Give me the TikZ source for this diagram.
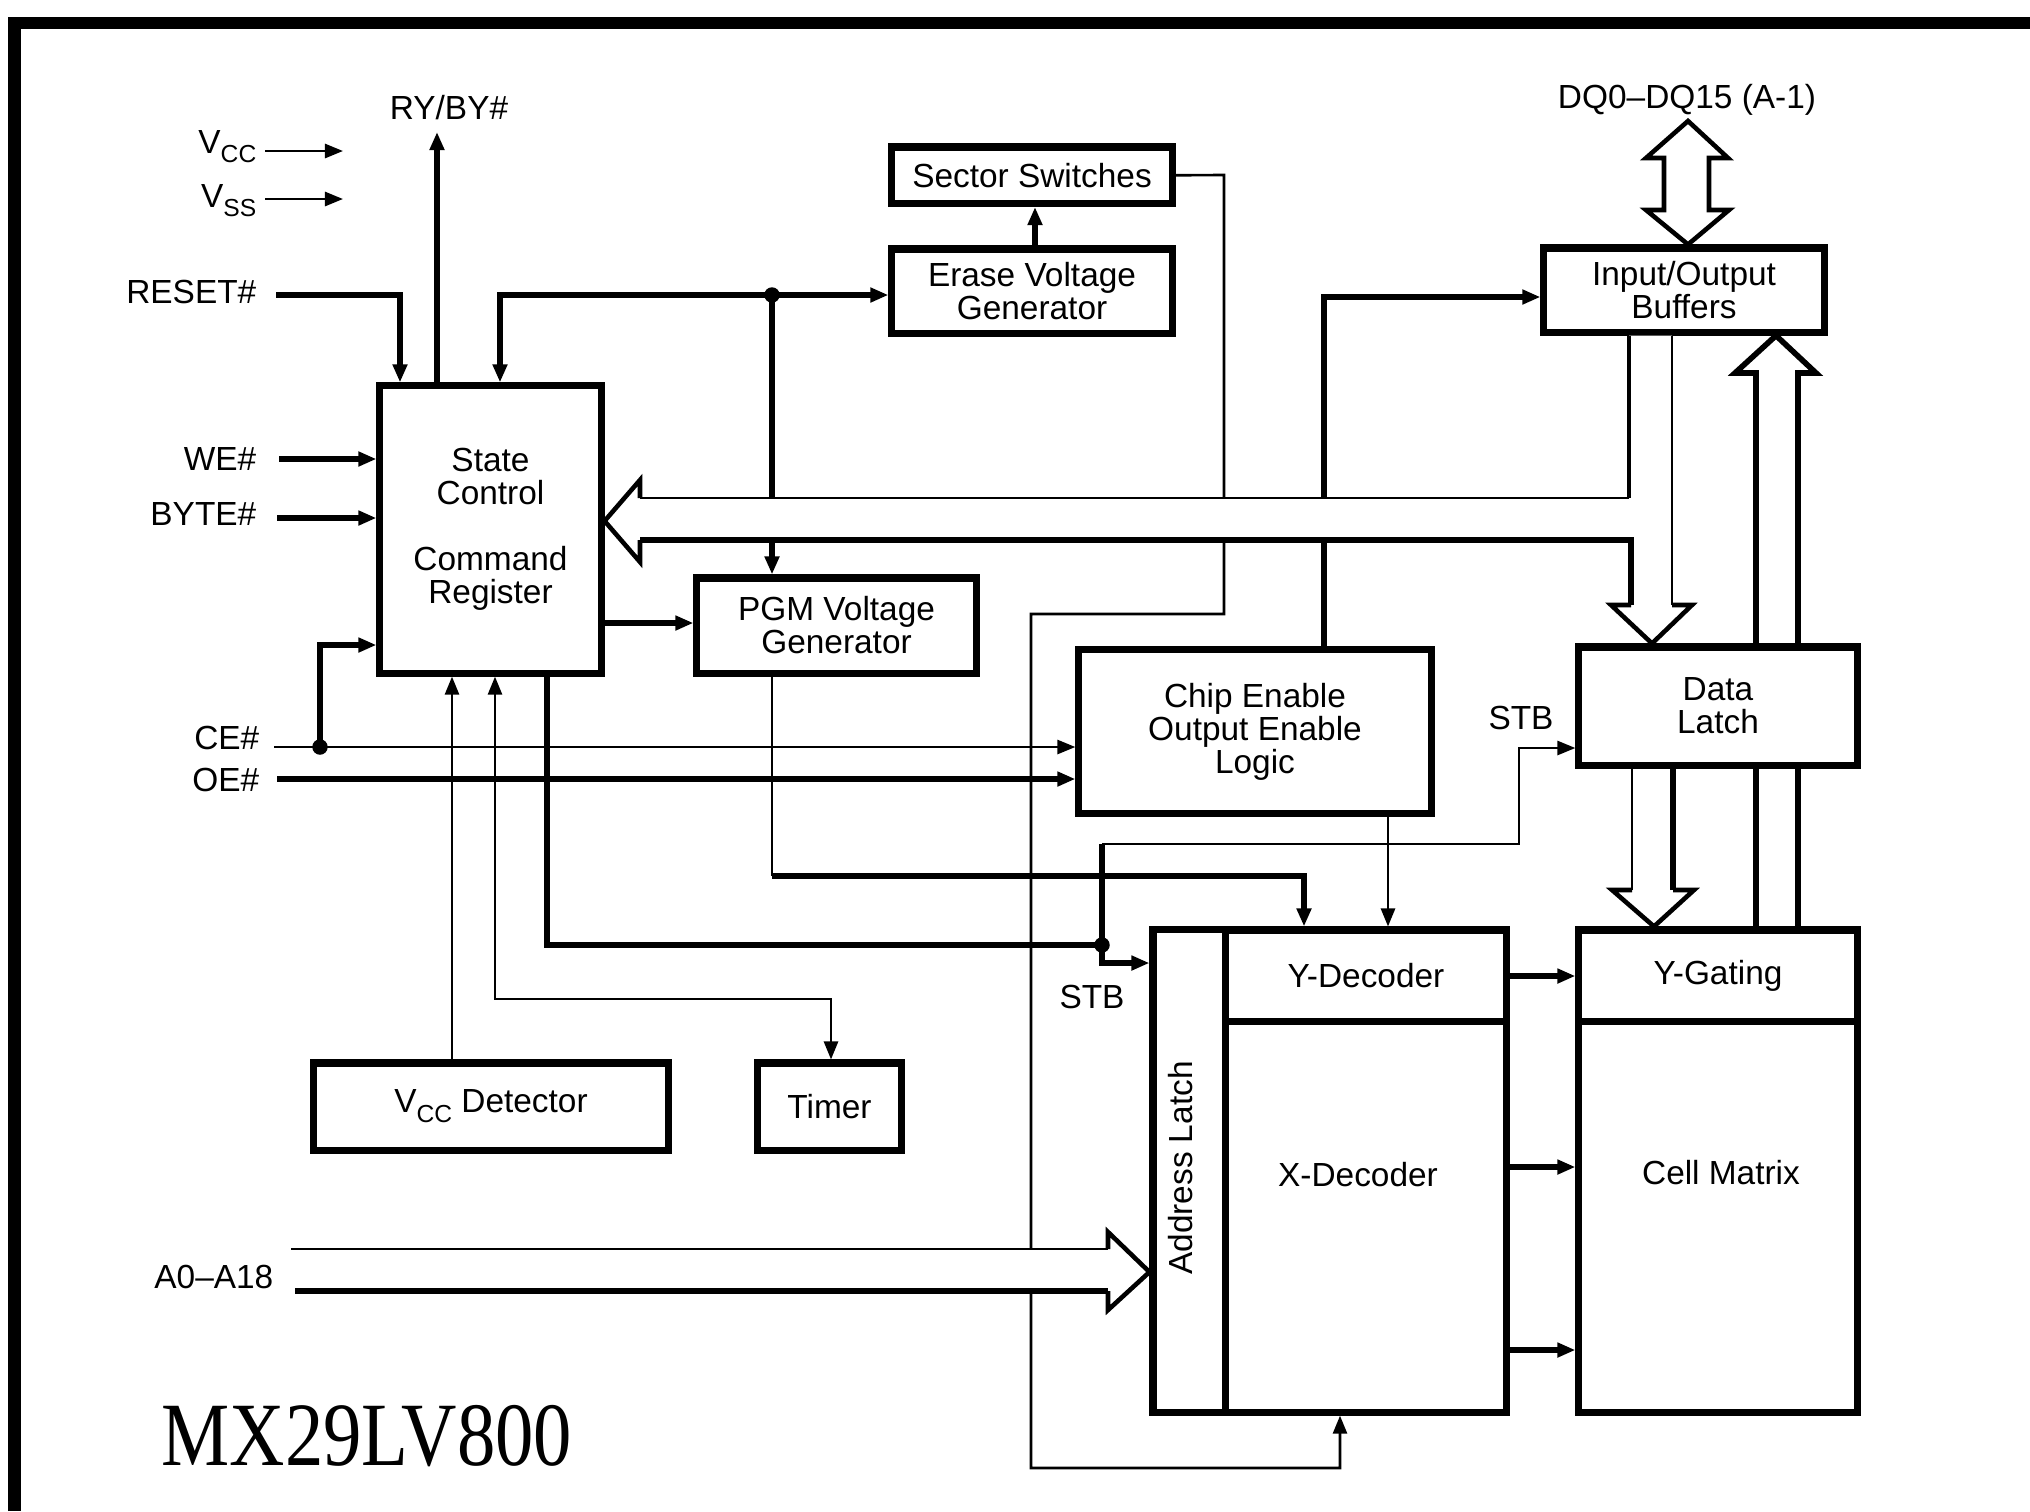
\documentclass[tikz,border=0pt]{standalone}
\usepackage{graphicx}
\usepackage{fontspec}
\setmainfont{Liberation Sans}
\newfontfamily\titlefont{Liberation Serif}
\usetikzlibrary{arrows.meta}
\newcommand{\lblfont}{\fontsize{9.5pt}{9.4pt}\selectfont}
\newcommand{\subsc}[1]{\raisebox{-2.8pt}{\fontsize{7pt}{7pt}\selectfont #1}}
\begin{document}
\begin{tikzpicture}[x=0.01cm,y=-0.01cm,
  >={Triangle[length=0.18cm,width=0.14cm]},
  blk/.style={draw,line width=2pt,fill=white,inner sep=1pt,align=center,font=\lblfont},
  lbl/.style={inner sep=0pt,font=\lblfont,align=center},
  sig/.style={line width=0.75pt},
  sigb/.style={line width=1.6pt},
  sigm/.style={line width=1.1pt},
  hol/.style={line width=1.3pt,line join=miter},
  dot/.style={fill=black}]
\useasboundingbox (0,0) rectangle (2030,1511);

% frame
\draw[line width=3.6pt,line join=miter] (14.5,1511) -- (14.5,23) -- (2030,23);

% blocks
\node[blk,minimum width=2.21cm,minimum height=2.87cm] (state) at (490.5,529.5) {State\\Control\\[9.4pt]Command\\Register};
\node[blk,minimum width=2.8cm,minimum height=0.565cm] (sector) at (1032,175.25) {Sector Switches};
\node[blk,minimum width=2.8cm,minimum height=0.84cm] (erase) at (1032,291) {Erase Voltage\\Generator};
\node[blk,minimum width=2.8cm,minimum height=0.84cm] (io) at (1684,290) {Input/Output\\Buffers};
\node[blk,minimum width=2.79cm,minimum height=0.95cm] (pgm) at (836.5,625.5) {PGM Voltage\\Generator};
\node[blk,minimum width=3.52cm,minimum height=1.63cm] (chip) at (1255,731.5) {Chip Enable\\Output Enable\\Logic};
\node[blk,minimum width=2.78cm,minimum height=1.18cm] (latch) at (1718,706) {Data\\Latch};
\node[blk,minimum width=0.73cm,minimum height=4.82cm] (addr) at (1189.5,1171) {};
\node[blk,minimum width=2.8cm,minimum height=0.92cm] (ydec) at (1366,976) {Y-Decoder};
\node[blk,minimum width=2.8cm,minimum height=3.9cm] (xdec) at (1366,1217) {};
\node[blk,minimum width=2.78cm,minimum height=0.92cm] (ygate) at (1718,976) {Y-Gating};
\node[blk,minimum width=2.78cm,minimum height=3.9cm] (cell) at (1718,1217) {};
\node[blk,minimum width=3.54cm,minimum height=0.87cm] (vccdet) at (491,1106.5) {V\subsc{CC} Detector};
\node[blk,minimum width=1.43cm,minimum height=0.87cm] (timer) at (829.5,1106.5) {Timer};

\node[lbl,rotate=90] (addrt) at (1181,1168) {Address Latch};
\node[lbl] (xdect) at (1358,1175) {X-Decoder};
\node[lbl] (cellt) at (1721,1173) {Cell Matrix};

% labels
\node[lbl,anchor=base east] (lvcc) at (257,153) {V\subsc{CC}};
\node[lbl,anchor=base east] (lvss) at (257,207) {V\subsc{SS}};
\node[lbl] (lry) at (449,108) {RY/BY\#};
\node[lbl,anchor=east] (lrst) at (257,292) {RESET\#};
\node[lbl,anchor=east] (lwe) at (257,459) {WE\#};
\node[lbl,anchor=east] (lbyte) at (257,514) {BYTE\#};
\node[lbl,anchor=east] (lce) at (260,738) {CE\#};
\node[lbl,anchor=east] (loe) at (260,780) {OE\#};
\node[lbl,anchor=east] (la) at (274,1277) {A0–A18};
\node[lbl] (ldq) at (1687,100) {DQ0–DQ15 (A-1)};
\node[lbl] (lstb1) at (1521,718) {STB};
\node[lbl] (lstb2) at (1092,997) {STB};
\node[inner sep=0pt,anchor=base west,font=\titlefont\fontsize{21.8pt}{22pt}\selectfont] (title) at (161,1465) {\scalebox{1}[1.18]{MX29LV800}};

% free ends
\coordinate (vcc1) at (265,151);
\coordinate (vcc2) at (343,151);
\coordinate (vss1) at (265,199);
\coordinate (vss2) at (343,199);
\coordinate (ry) at (437,132);
\coordinate (rst) at (276,295);
\coordinate (we) at (279,459);
\coordinate (byte) at (277,518);
\coordinate (ce) at (274,747);
\coordinate (oe) at (277,779);
\coordinate (abus1) at (291,1249);
\coordinate (abus2) at (295,1291);
\coordinate (J) at (772,295);
\coordinate (C) at (320,747);
\coordinate (D) at (1102,945);

% power pins
\draw[sig,->] (vcc1) -- (vcc2);
\draw[sig,->] (vss1) -- (vss2);

% RY/BY#
\draw[sigb,->] (state.north -| ry) -- (ry);
% RESET#
\draw[sigb,->] (rst) -| (400,0 |- state.north);
% junction J
\draw[sigb,<->] (500,0 |- state.north) |- (erase.west |- J);
\draw[sigb,->] (J) -- (J |- pgm.north);
% erase -> sector
\draw[sigb,->] (1035,0 |- erase.north) -- (1035,0 |- sector.south);
% sector switches -> X-decoder
\draw[sig,->] (sector.east) -- (1224,175) -- (1224,614) -- (1031,614) -- (1031,1468) -- (1340,1468) -- (1340,0 |- xdec.south);
% WE#, BYTE#
\draw[sigb,->] (we) -- (state.west |- we);
\draw[sigb,->] (byte) -- (state.west |- byte);
% CE#, OE#
\draw[sig,->] (ce) -- (chip.west |- ce);
\draw[sigb,->] (C) |- (state.west |- 0,645);
\draw[sigb,->] (oe) -- (chip.west |- oe);
% state -> PGM
\draw[sigb,->] (state.east |- 0,623) -- (pgm.west |- 0,623);
% Vcc detector, timer
\draw[sig,->] (452,0 |- vccdet.north) -- (452,0 |- state.south);
\draw[sig,<->] (495,0 |- state.south) -- (495,999) -- (831,999) -- (831,0 |- timer.north);
% state -> D
\draw[sigb] (547,0 |- state.south) |- (D);
% PGM -> Y-decoder
\draw[sig] (772,0 |- pgm.south) -- (772,876);
\draw[sigb,->] (772,876) -| (1304,0 |- ydec.north);
% chip enable logic -> Y-decoder, I/O
\draw[sig,->] (1388,0 |- chip.south) -- (1388,0 |- ydec.north);
\draw[sigb,->] (1324,0 |- chip.north) |- (io.west |- 0,297);
% STB
\draw[sigb] (D) -- (1102,844);
\draw[sig,->] (1102,844) -| (1519,748) -- (latch.west |- 0,748);
\draw[sigb,->] (D) |- (addr.west |- 0,963);
% decoders -> gating / matrix
\draw[sigb,->] (ydec.east) -- (ygate.west);
\draw[sigb,->] (xdec.east |- 0,1167) -- (cell.west |- 0,1167);
\draw[sigb,->] (xdec.east |- 0,1350) -- (cell.west |- 0,1350);

% hollow arrow Y-gating -> I/O buffers
\draw[sigb] (1756,0 |- ygate.north) -- (1756,0 |- latch.south);
\draw[sigb] (1798,0 |- ygate.north) -- (1798,0 |- latch.south);
\draw[sigb,line join=miter] (1756,0 |- latch.north) -- (1756,373) -- (1735,373) -- (1776,0 |- io.south) -- (1816,373) -- (1798,373) -- (1798,0 |- latch.north);

% hollow arrow data latch -> Y-gating
\draw[sig] (1632,0 |- latch.south) -- (1632,890);
\draw[hol] (1632,890) -- (1612,890) -- (1654,0 |- ygate.north) -- (1694,890) -- (1673,890);
\draw[sigb] (1673,890) -- (1673,0 |- latch.south);

% DQ double arrow
\draw[hol] (1664,158) -- (1646,158) -- (1688,121) -- (1728,158) -- (1709,158) -- (1709,210) -- (1729,210) -- (1688,0 |- io.north) -- (1646,210) -- (1664,210) -- cycle;

% main internal bus
\fill[white] (1629,0 |- io.south) -- (1629,498) -- (640,498) -- (640,480) -- (state.east |- 0,521) -- (640,562) -- (640,540) -- (1631,540) -- (1631,605) -- (1611,605) -- (1652,0 |- latch.north) -- (1692,605) -- (1672,605) -- (1672,0 |- io.south) -- cycle;
\draw[sigm] (1629,0 |- io.south) -- (1629,498);
\draw[sig] (1629,498) -- (640,498);
\draw[hol] (640,498) -- (640,480) -- (state.east |- 0,521) -- (640,562) -- (640,540);
\draw[sigb,line join=miter] (640,540) -- (1631,540) -- (1631,605);
\draw[hol] (1631,605) -- (1611,605) -- (1652,0 |- latch.north) -- (1692,605) -- (1672,605);
\draw[sig] (1672,605) -- (1672,0 |- io.south);

% address bus
\fill[white] (abus1) -- (1108,1249) -- (1108,1232) -- (addr.west |- 0,1272) -- (1108,1310) -- (1108,1291) -- (abus2) -- cycle;
\draw[sig] (abus1) -- (1108,1249);
\draw[hol] (1108,1249) -- (1108,1232) -- (addr.west |- 0,1272) -- (1108,1310) -- (1108,1291);
\draw[sigb] (1108,1291) -- (abus2);

% junction dots
\fill[dot] (J) circle[radius=2.2pt];
\fill[dot] (C) circle[radius=2.2pt];
\fill[dot] (D) circle[radius=2.2pt];
\end{tikzpicture}
\end{document}
